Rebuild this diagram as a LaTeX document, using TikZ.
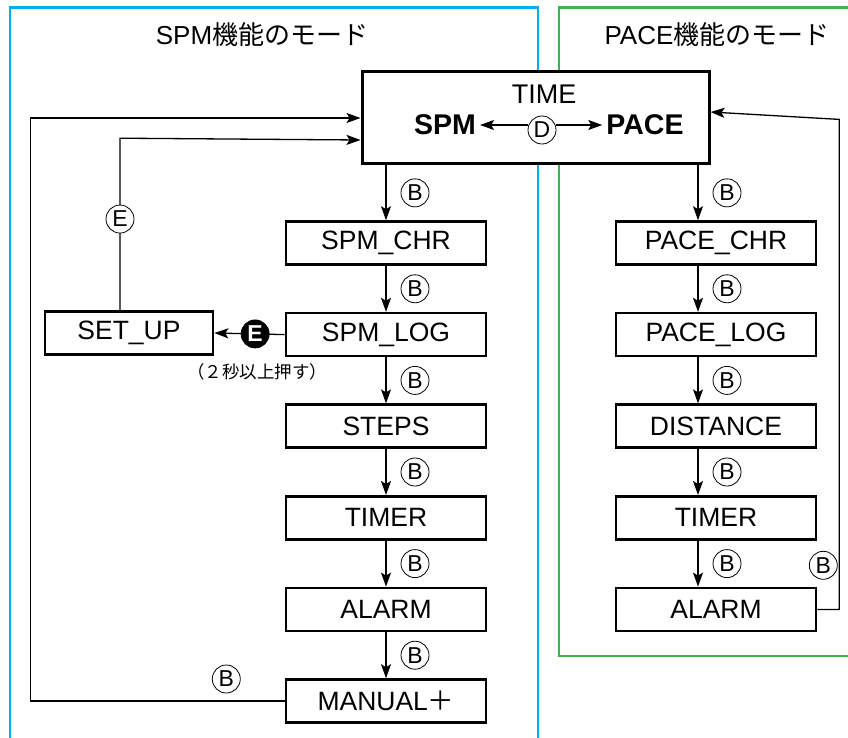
\documentclass[tikz,border=0pt]{standalone}
\usepackage{fontspec}
\setmainfont{Liberation Sans}
\newfontfamily\jp{Noto Sans CJK JP}
\usetikzlibrary{arrows.meta, positioning, calc}
\definecolor{spmblue}{RGB}{0,176,236}
\definecolor{pacegreen}{RGB}{64,178,72}
\tikzset{
  box/.style={draw, line width=2.6pt, fill=white, minimum height=43pt, minimum width=200pt,
    inner sep=0pt, font=\fontsize{26.5}{28}\selectfont},
  btn/.style={circle, draw, line width=0.8pt, fill=white, inner sep=0pt, minimum size=28pt,
    font=\fontsize{23}{23}\selectfont},
  ebtn/.style={btn, fill=black, text=white, font=\fontsize{23}{23}\bfseries},
  arr/.style={-{Stealth[length=14pt, width=10pt, inset=3pt]}, line width=1.3pt},
  frame/.style={line width=2.6pt},
  title/.style={font=\fontsize{26}{28}\selectfont},
  mode/.style={font=\fontsize{28.5}{30}\bfseries, inner sep=4pt},
  note/.style={font=\jp\fontsize{17.5}{18}\selectfont},
}
\begin{document}
\begin{tikzpicture}[x=1pt, y=1pt]
  \useasboundingbox (0,0) rectangle (848,-738);
  % frames
  \draw[frame, spmblue] (10,-745) |- (538,-7.5) -- (538,-745);
  \draw[frame, pacegreen] (855,-7.5) -| (559,-656) -- (855,-656);
  \node[title] at (262,-35) {SPM{\jp 機能のモード}};
  \node[title] at (717,-35) {PACE{\jp 機能のモード}};

  % top box
  \node[box, line width=3pt, minimum width=347pt, minimum height=92pt] (time) at (535.5,-118) {};
  \node[font=\fontsize{27}{28}\selectfont] (tlabel) at (544,-94) {TIME};
  \node[mode] (spm) at (445,-125) {SPM};
  \node[mode] (pace) at (645,-125) {PACE};
  \node[btn] (d) at (542,-130) {D};
  \draw[arr] (d.west |- spm.east) -- (spm.east);
  \draw[arr] (d.east |- pace.west) -- (pace.west);

  % SPM modes
  \node[box] (schr) at (386,-243) {SPM\_CHR};
  \node[box, below=46pt of schr] (slog) {SPM\_LOG};
  \node[box, below=46pt of slog] (steps) {STEPS};
  \node[box, below=46pt of steps] (stimer) {TIMER};
  \node[box, below=46pt of stimer] (salarm) {ALARM};
  \node[box, below=46pt of salarm] (manual) {MANUAL{\jp ＋}};
  \node[box, minimum width=168pt] (setup) at (129,-333) {SET\_UP};

  \draw[arr] (time.south -| schr.north) -- node[btn, xshift=29pt] {B} (schr.north);
  \foreach \a/\b in {schr/slog, slog/steps, steps/stimer, stimer/salarm, salarm/manual}
    \draw[arr] (\a.south) -- node[btn, xshift=29pt] {B} (\b.north);

  \draw[arr] (slog.west) -- node[ebtn, pos=0.42] (e) {E} (setup.east);
  \node[note] (hold) at (257,-372) {（２秒以上押す）};
  \draw[arr] ([xshift=-9pt]setup.north) -- node[btn, pos=0.53] {E} ++(0,172) -- ([yshift=-22pt]time.west);
  \draw[arr] (manual.west) -- node[btn, pos=0.23, yshift=22pt] {B} ++(-254,0) |- (time.west);

  % PACE modes
  \node[box] (pchr) at (716,-243) {PACE\_CHR};
  \node[box, below=46pt of pchr] (plog) {PACE\_LOG};
  \node[box, below=46pt of plog] (dist) {DISTANCE};
  \node[box, below=46pt of dist] (ptimer) {TIMER};
  \node[box, below=46pt of ptimer] (palarm) {ALARM};

  \draw[arr] (time.south -| 698,0) -- node[btn, xshift=29pt] {B} ([xshift=-18pt]pchr.north);
  \foreach \a/\b in {pchr/plog, plog/dist, dist/ptimer, ptimer/palarm}
    \draw[arr] ([xshift=-18pt]\a.south) -- node[btn, xshift=29pt] {B} ([xshift=-18pt]\b.north);
  \draw[arr] (palarm.east) -- ++(22,0) -- node[btn, pos=0.09, xshift=-16pt] {B} ++(0,490)
    -- ([yshift=6pt]time.east);
\end{tikzpicture}
\end{document}
